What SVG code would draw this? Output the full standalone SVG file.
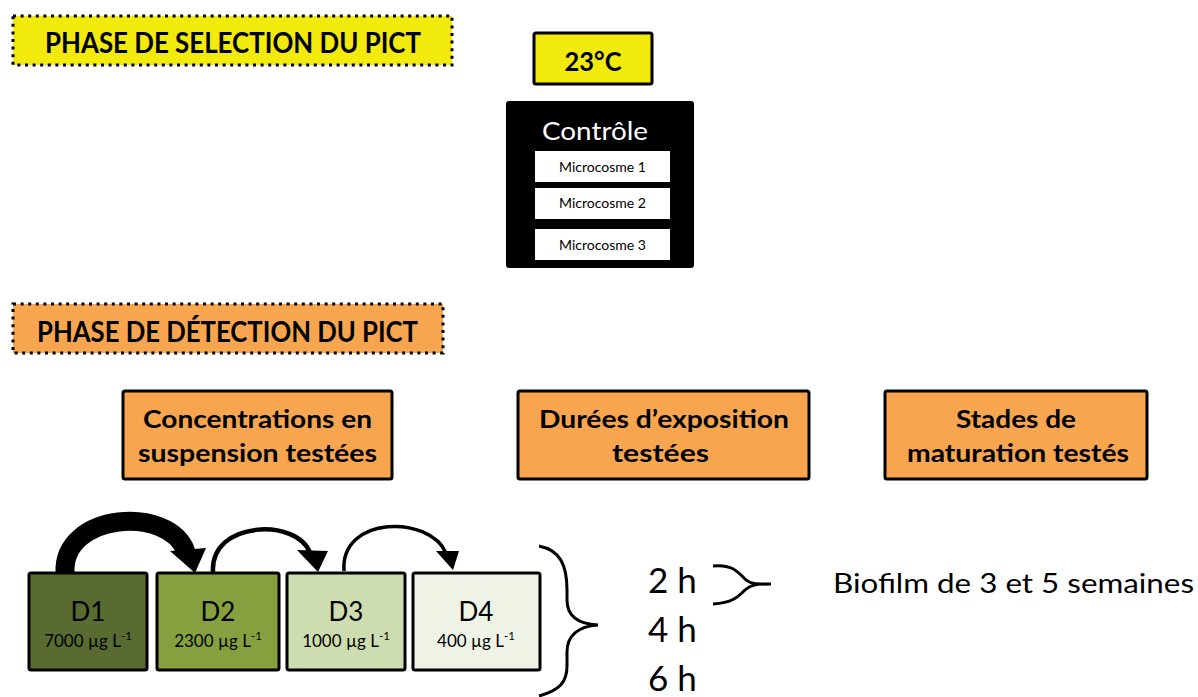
<svg xmlns="http://www.w3.org/2000/svg" width="1198" height="697" viewBox="0 0 1198 697">
<style>
text{font-family:Lato,"Liberation Sans",sans-serif;fill:#000}
.b{font-weight:bold}
.phase{stroke:#000;stroke-width:3;stroke-dasharray:3 4.6}
.ob{fill:#F8A54F;stroke:#000;stroke-width:3}
.db{stroke:#000;stroke-width:3}
.mc{fill:#fff}
.mt{font-size:13.5px}
.dl{font-size:26px}
.ds{font-size:17px}
.hr{font-size:35px}
.ot{font-size:24px;font-weight:bold}
.conn{fill:none;stroke:#000}
</style>
<g id="phase-selection">
<rect x="13" y="16" width="439" height="49" fill="#F2EA0C" class="phase"/>
<text x="233" y="53" text-anchor="middle" class="b" font-size="28" textLength="376" lengthAdjust="spacingAndGlyphs">PHASE DE SELECTION DU PICT</text>
</g>
<g id="temp">
<rect x="534" y="33" width="118" height="51" rx="2" fill="#F2EA0C" stroke="#000" stroke-width="3"/>
<text x="593" y="71" text-anchor="middle" class="b" font-size="26" textLength="57" lengthAdjust="spacingAndGlyphs">23°C</text>
</g>
<g id="controle">
<rect x="506" y="101" width="188" height="167" rx="3" fill="#000"/>
<text x="595" y="140" text-anchor="middle" font-size="25" style="fill:#fff" textLength="106" lengthAdjust="spacingAndGlyphs">Contrôle</text>
<rect x="535" y="151" width="135" height="31" class="mc"/>
<text x="602.5" y="172" text-anchor="middle" class="mt" textLength="87" lengthAdjust="spacingAndGlyphs">Microcosme 1</text>
<rect x="535" y="188" width="135" height="31" class="mc"/>
<text x="602.5" y="208" text-anchor="middle" class="mt" textLength="87" lengthAdjust="spacingAndGlyphs">Microcosme 2</text>
<rect x="535" y="229" width="135" height="31" class="mc"/>
<text x="602.5" y="250" text-anchor="middle" class="mt" textLength="87" lengthAdjust="spacingAndGlyphs">Microcosme 3</text>
</g>
<g id="phase-detection">
<rect x="13" y="304" width="430" height="49" fill="#F8A54F" class="phase"/>
<text x="227.5" y="342" text-anchor="middle" class="b" font-size="28" textLength="381" lengthAdjust="spacingAndGlyphs">PHASE DE DÉTECTION DU PICT</text>
</g>
<g id="concentrations">
<rect x="123" y="391" width="269" height="88" rx="2" class="ob"/>
<text x="257.5" y="428" text-anchor="middle" class="ot" textLength="229" lengthAdjust="spacingAndGlyphs">Concentrations en</text>
<text x="257.5" y="462" text-anchor="middle" class="ot" textLength="239" lengthAdjust="spacingAndGlyphs">suspension testées</text>
</g>
<g id="durees">
<rect x="518" y="391" width="291" height="88" rx="2" class="ob"/>
<text x="664" y="428" text-anchor="middle" class="ot" textLength="250" lengthAdjust="spacingAndGlyphs">Durées d’exposition</text>
<text x="660.5" y="462" text-anchor="middle" class="ot" textLength="97" lengthAdjust="spacingAndGlyphs">testées</text>
</g>
<g id="stades">
<rect x="885" y="391" width="262" height="88" rx="2" class="ob"/>
<text x="1016" y="428" text-anchor="middle" class="ot" textLength="120" lengthAdjust="spacingAndGlyphs">Stades de</text>
<text x="1018" y="462" text-anchor="middle" class="ot" textLength="222" lengthAdjust="spacingAndGlyphs">maturation testés</text>
</g>
<g id="D1">
<rect x="29" y="573" width="118" height="97" rx="2" fill="#5A6B31" class="db"/>
<text x="88" y="621" text-anchor="middle" class="dl">D1</text>
<text x="88" y="647" text-anchor="middle" class="ds">7000 µg L<tspan font-size="11.5" dy="-7">-1</tspan></text>
</g>
<g id="D2">
<rect x="157" y="573" width="122" height="97" rx="2" fill="#87A03F" class="db"/>
<text x="218" y="621" text-anchor="middle" class="dl">D2</text>
<text x="218" y="647" text-anchor="middle" class="ds">2300 µg L<tspan font-size="11.5" dy="-7">-1</tspan></text>
</g>
<g id="D3">
<rect x="287" y="573" width="118" height="97" rx="2" fill="#CDDDAF" class="db"/>
<text x="346" y="621" text-anchor="middle" class="dl">D3</text>
<text x="346" y="647" text-anchor="middle" class="ds">1000 µg L<tspan font-size="11.5" dy="-7">-1</tspan></text>
</g>
<g id="D4">
<rect x="413" y="573" width="127" height="97" rx="2" fill="#EFF3E5" class="db"/>
<text x="476" y="621" text-anchor="middle" class="dl">D4</text>
<text x="476" y="647" text-anchor="middle" class="ds">400 µg L<tspan font-size="11.5" dy="-7">-1</tspan></text>
</g>
<g id="hours">
<text x="648" y="593" class="hr">2 h</text>
<text x="648" y="642" class="hr">4 h</text>
<text x="648" y="691" class="hr">6 h</text>
</g>
<g id="biofilm">
<text x="833" y="593" font-size="27" textLength="361" lengthAdjust="spacingAndGlyphs">Biofilm de 3 et 5 semaines</text>
</g>
<g id="connectors">
<path class="conn" stroke-width="19" d="M65 573 C62 512 170 505 186 552"/>
<polygon points="170,551 206,548 195,573" fill="#000"/>
<path class="conn" stroke-width="4.5" d="M213 572 C210 520 298 518 310 553"/>
<polygon points="297,550 328,551 318,572" fill="#000"/>
<path class="conn" stroke-width="3.5" d="M344 571 C340 515 430 515 446 553"/>
<polygon points="436,551 459,551 453,570" fill="#000"/>
<path class="conn" stroke-width="3" d="M539 546 C560 550 567 565 567 590 L567 600 C567 616 578 624 598 625 C578 626 567 636 567 652 L567 666 C567 682 560 690 539 696"/>
<path class="conn" stroke-width="3" d="M713 566 C732 564 738 572 745 579 C750 584 756 584 771 584 M771 584 C756 584 750 585 745 590 C738 597 732 603 713 604"/>
</g>
</svg>
